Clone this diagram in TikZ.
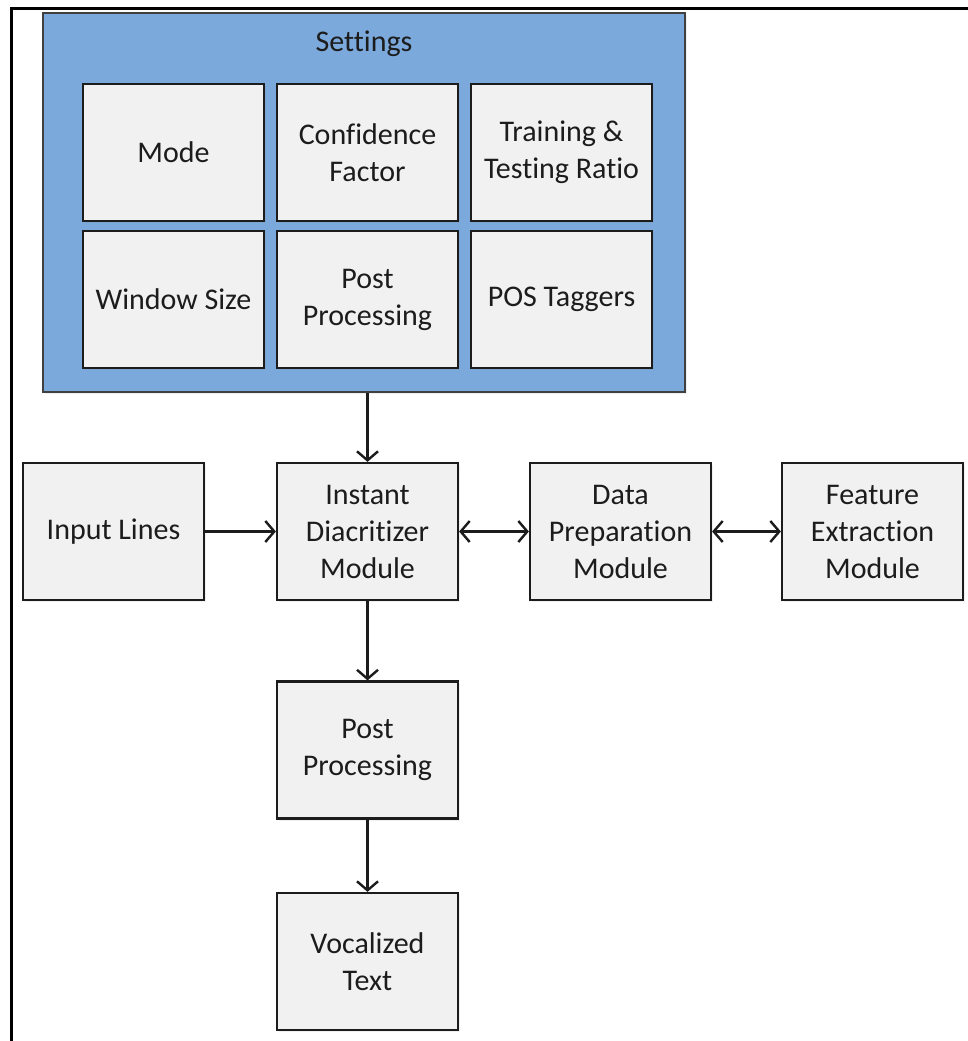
\documentclass[tikz,border=0pt]{standalone}
\usepackage{fontspec}
\setmainfont{Carlito}[Ligatures={NoCommon,NoRare,NoContextual}]
\usetikzlibrary{arrows.meta,shadows}
\definecolor{panelblue}{HTML}{7BA9DB}
\definecolor{boxfill}{HTML}{F1F1F1}
\definecolor{inkgray}{HTML}{1C1C1C}
\begin{document}
\begin{tikzpicture}[x=1pt,y=-1pt,
  font=\fontsize{30}{37}\selectfont,
  modbox/.style={draw=inkgray, line width=2.2pt, fill=boxfill, text=inkgray,
    minimum width=181pt, minimum height=137pt, align=center, inner sep=0pt,
    drop shadow={shadow xshift=1.5pt, shadow yshift=-2pt, opacity=0.12}},
  flow/.style={draw=inkgray, line width=2.4pt, -{Straight Barb[length=9pt,width=21pt,line width=2.4pt]}},
  biflow/.style={draw=inkgray, line width=2.4pt, {Straight Barb[length=9pt,width=21pt,line width=2.4pt]}-{Straight Barb[length=9pt,width=21pt,line width=2.4pt]}}]
  \useasboundingbox (0,0) rectangle (968,1041);

  % page frame (top and left rules)
  \draw[line width=3pt] (11.5,1041) -- (11.5,8.5) -- (968,8.5);

  % settings panel
  \node[draw=black!75, line width=2pt, fill=panelblue, minimum width=642pt, minimum height=379pt,
        inner sep=0pt, drop shadow={shadow xshift=1.5pt, shadow yshift=-2pt, opacity=0.12}]
        (settings) at (364,202.5) {};
  \node[text=inkgray] (settingslbl) at (364,44) {Settings};

  \node[modbox] (mode) at (173.5,152.5) {Mode};
  \node[modbox] (conf) at (367.5,152.5) {Confidence\\Factor};
  \node[modbox] (ratio) at (561.5,152.5) {Training \&\\Testing Ratio};
  \node[modbox] (win) at (173.5,299.5) {Window Size};
  \node[modbox] (postset) at (367.5,299.5) {Post\\Processing};
  \node[modbox] (pos) at (561.5,299.5) {POS Taggers};

  % processing chain
  \node[modbox] (input) at (113.5,531.5) {Input Lines};
  \node[modbox] (inst) at (367.5,531.5) {Instant\\Diacritizer\\Module};
  \node[modbox] (prep) at (620.5,531.5) {Data\\Preparation\\Module};
  \node[modbox] (feat) at (872.5,531.5) {Feature\\Extraction\\Module};
  \node[modbox] (post) at (367.5,750) {Post\\Processing};
  \node[modbox] (voc) at (367.5,961.5) {Vocalized\\Text};

  % connectors
  \draw[flow] (settings.south -| inst.north) -- (inst.north);
  \draw[flow] (input.east) -- (inst.west);
  \draw[biflow] (inst.east) -- (prep.west);
  \draw[biflow] (prep.east) -- (feat.west);
  \draw[flow] (inst.south) -- (post.north);
  \draw[flow] (post.south) -- (voc.north);
\end{tikzpicture}
\end{document}
